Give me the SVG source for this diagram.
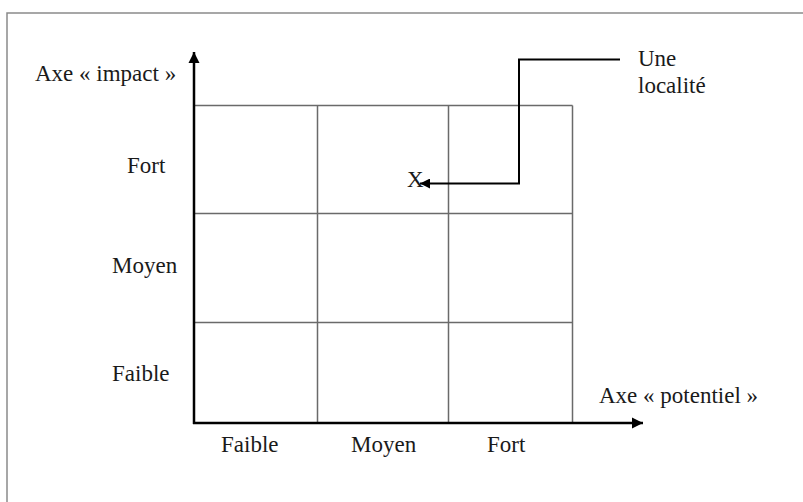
<svg xmlns="http://www.w3.org/2000/svg" width="803" height="502" viewBox="0 0 803 502">
<style>
.t{font-family:'Liberation Serif','Times New Roman',Times,serif;font-size:23px;fill:#1a1a1a}
.grid{stroke:#6a6a6a;stroke-width:1.5;fill:none}
.axis{stroke:#000;stroke-width:2.5;fill:none}
.conn{stroke:#000;stroke-width:2;fill:none}
.frame{stroke:#8a8a8a;stroke-width:1.5;fill:none}
</style>
<defs>
<marker id="ah" viewBox="0 0 10 10" refX="10" refY="5" markerWidth="4.5" markerHeight="4.5" markerUnits="strokeWidth" orient="auto">
<path d="M0,0 L10,5 L0,10 z" fill="#000"/>
</marker>
<marker id="ah2" viewBox="0 0 10 10" refX="10" refY="5" markerWidth="5" markerHeight="5" markerUnits="strokeWidth" orient="auto">
<path d="M0,0 L10,5 L0,10 z" fill="#000"/>
</marker>
</defs>
<rect width="803" height="502" fill="#fff"/>
<path class="frame" d="M7,502 V13 H803"/>
<g id="grid">
<path class="grid" d="M194,105.5 H572.5 M194,213.5 H572.5 M194,322.5 H572.5 M317.5,105.5 V423 M448.5,105.5 V423 M572.5,105.5 V423"/>
</g>
<g id="axes">
<line class="axis" x1="194" y1="424" x2="194" y2="52" marker-end="url(#ah)"/>
<line class="axis" x1="193" y1="423" x2="643" y2="423" marker-end="url(#ah)"/>
</g>
<g font-family="Liberation Serif, serif" font-size="23">
<g id="y-labels">
<text class="t" x="35" y="81">Axe « impact »</text>
<text class="t" x="127" y="173">Fort</text>
<text class="t" x="112" y="273">Moyen</text>
<text class="t" x="112" y="381">Faible</text>
</g>
<g id="x-labels">
<text class="t" x="599" y="403">Axe « potentiel »</text>
<text class="t" x="221" y="452">Faible</text>
<text class="t" x="351" y="452">Moyen</text>
<text class="t" x="487" y="452">Fort</text>
</g>
<g id="point">
<text class="t" x="407" y="187">X</text>
</g>
<g id="label-localite">
<text class="t" x="638" y="66">Une</text>
<text class="t" x="638" y="93">localité</text>
</g>
</g>
<g id="connectors">
<polyline class="conn" points="620,59.5 519,59.5 519,183.5 420,183.5" marker-end="url(#ah2)"/>
</g>
</svg>
